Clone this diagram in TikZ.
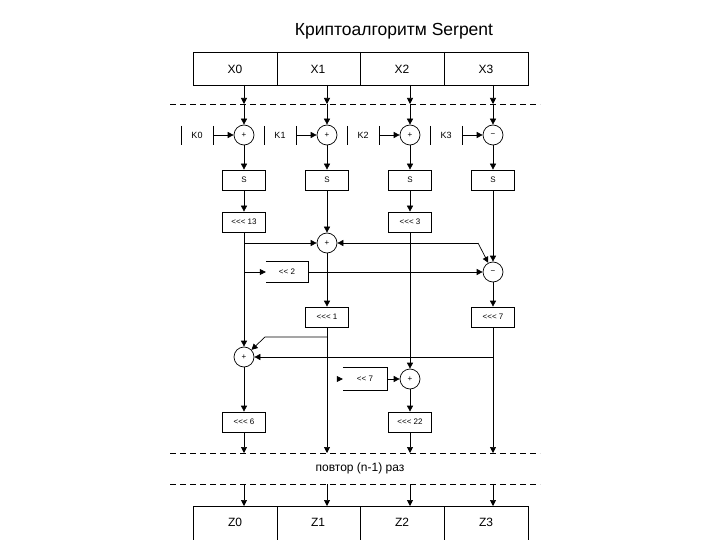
\documentclass[tikz,border=0pt]{standalone}
\usepackage{fontspec}
\setmainfont{Liberation Sans}
\usetikzlibrary{arrows.meta}
\newcommand{\lt}{<{}}
\begin{document}
\begin{tikzpicture}[x=1pt,y=-1pt,
  ar/.style={-{Triangle[length=6pt,width=6pt]}},
  ln/.style={line width=0.7pt},
  box/.style={draw,line width=0.7pt,minimum width=43pt,minimum height=20pt,inner sep=0pt,font=\fontsize{8}{9}\selectfont},
  add/.style={draw,circle,line width=0.7pt,minimum size=20pt,inner sep=0pt,font=\fontsize{8}{9}\selectfont},
  lbl/.style={font=\fontsize{9}{10}\selectfont},
  dsh/.style={dashed,dash pattern=on 6pt off 4pt,line width=0.7pt}]
\useasboundingbox (0,0) rectangle (720,540);
\node[font=\fontsize{17.5}{20}\selectfont] (title) at (394,31) {Криптоалгоритм Serpent};
% top register
\draw[ln] (193,52) rectangle (528,85);
\foreach \x in {277,360,444} \draw[ln] (\x,52) -- (\x,85);
\foreach \i/\x in {0/235,1/318,2/402,3/486} \node[font=\fontsize{12}{14}\selectfont] (x\i) at (\x,69) {X\i};
\draw[dsh] (170,104) -- (540,104);
\draw[dsh] (170,453) -- (540,453);
\draw[dsh] (170,484) -- (540,484);
\node[font=\fontsize{12}{14}\selectfont] (rep) at (360,468) {повтор (n-1) раз};
% bottom register
\draw[ln] (193,540) -- (193,506) -- (528,506) -- (528,540);
\foreach \x in {277,360,444} \draw[ln] (\x,506) -- (\x,540);
\foreach \i/\x in {0/235,1/318,2/402,3/486} \node[font=\fontsize{12}{14}\selectfont] (z\i) at (\x,522) {Z\i};
% columns
\foreach \i/\x in {0/244,1/327,2/410,3/493}{
  \coordinate (t\i) at (\x,85);
  \coordinate (d\i) at (\x,104);
  \coordinate (e\i) at (\x,453);
  \coordinate (f\i) at (\x,484);
  \coordinate (b\i) at (\x,506);
  \draw[ln,ar] (t\i) -- (d\i);
  \draw[ln,ar] (f\i) -- (b\i);
}
\node[add] (k0a) at (244,135) {+};
\node[add] (k1a) at (327,135) {+};
\node[add] (k2a) at (410,135) {+};
\node[add] (k3a) at (493,135) {−};
\foreach \i in {0,1,2,3} \draw[ln,ar] (d\i) -- (k\i a);
\foreach \i/\x in {0/181,1/264,2/347,3/430}{
  \draw[ln] (\x,126) -- (\x,145);
  \draw[ln] (\x+32,126) -- (\x+32,145);
  \coordinate (ks\i) at (\x+32,135);
  \draw[ln,ar] (ks\i) -- (k\i a);
}
\node[lbl] (K0) at (197,135) {K0};
\node[lbl] (K1) at (280,135) {K1};
\node[lbl] (K2) at (363,135) {K2};
\node[lbl] (K3) at (446,135) {K3};
\foreach \i/\x in {0/244,1/327,2/410,3/493} \node[box] (s\i) at (\x,180) {S};
\foreach \i in {0,1,2,3} \draw[ln,ar] (k\i a) -- (s\i);
\node[box] (r13) at (244,222) {\lt\lt\lt\ 13};
\node[box] (r3) at (410,222) {\lt\lt\lt\ 3};
\draw[ln,ar] (s0) -- (r13);
\draw[ln,ar] (s2) -- (r3);
\node[add] (a1) at (327,243) {+};
\node[add] (a3) at (493,272) {−};
\draw[ln,ar] (s1) -- (a1);
\draw[ln,ar] (s3) -- (a3);
\coordinate (c0a) at (244,243);
\draw[ln,ar] (c0a) -- (a1);
\coordinate (jr) at (478,243);
\draw[ln,ar] (jr) -- (a1);
\draw[ln,ar] (jr) -- (a3);
\node[draw=none,minimum width=42pt,minimum height=21pt,inner sep=0pt,font=\fontsize{8}{9}\selectfont] (sh2) at (287,272) {\lt\lt\ 2};
\draw[ln] (sh2.north west) -- (sh2.north east) -- (sh2.south east) -- (sh2.south west);
\coordinate (c0b) at (244,272);
\draw[ln,ar] (c0b) -- (sh2.west);
\draw[ln,ar] (sh2.east) -- (a3);
\node[box] (r1) at (327,317) {\lt\lt\lt\ 1};
\node[box] (r7) at (493,317) {\lt\lt\lt\ 7};
\draw[ln,ar] (a1) -- (r1);
\draw[ln,ar] (a3) -- (r7);
\node[add] (a0) at (244,357) {+};
\draw[ln,ar] (r13) -- (a0);
\coordinate (c1a) at (327,337);
\draw[ln,ar] (c1a) -- (265,337) -- (a0);
\coordinate (c3a) at (493,357);
\draw[ln,ar] (c3a) -- (a0);
\node[add] (a2) at (410,379) {+};
\draw[ln,ar] (r3) -- (a2);
\node[draw=none,minimum width=44pt,minimum height=22pt,inner sep=0pt,font=\fontsize{8}{9}\selectfont] (sh7) at (365,379) {\lt\lt\ 7};
\draw[ln] (sh7.north west) -- (sh7.north east) -- (sh7.south east) -- (sh7.south west);
\draw[ln,ar] (sh7.east) -- (a2);
\coordinate (sh7in) at (337,379);
\draw[ln,ar] (sh7in) -- (sh7.west);
\node[box] (r6) at (244,422) {\lt\lt\lt\ 6};
\node[box] (r22) at (410,422) {\lt\lt\lt\ 22};
\draw[ln,ar] (a0) -- (r6);
\draw[ln,ar] (a2) -- (r22);
\draw[ln,ar] (r6) -- (e0);
\draw[ln,ar] (r1) -- (e1);
\draw[ln,ar] (r22) -- (e2);
\draw[ln,ar] (r7) -- (e3);
\end{tikzpicture}
\end{document}
